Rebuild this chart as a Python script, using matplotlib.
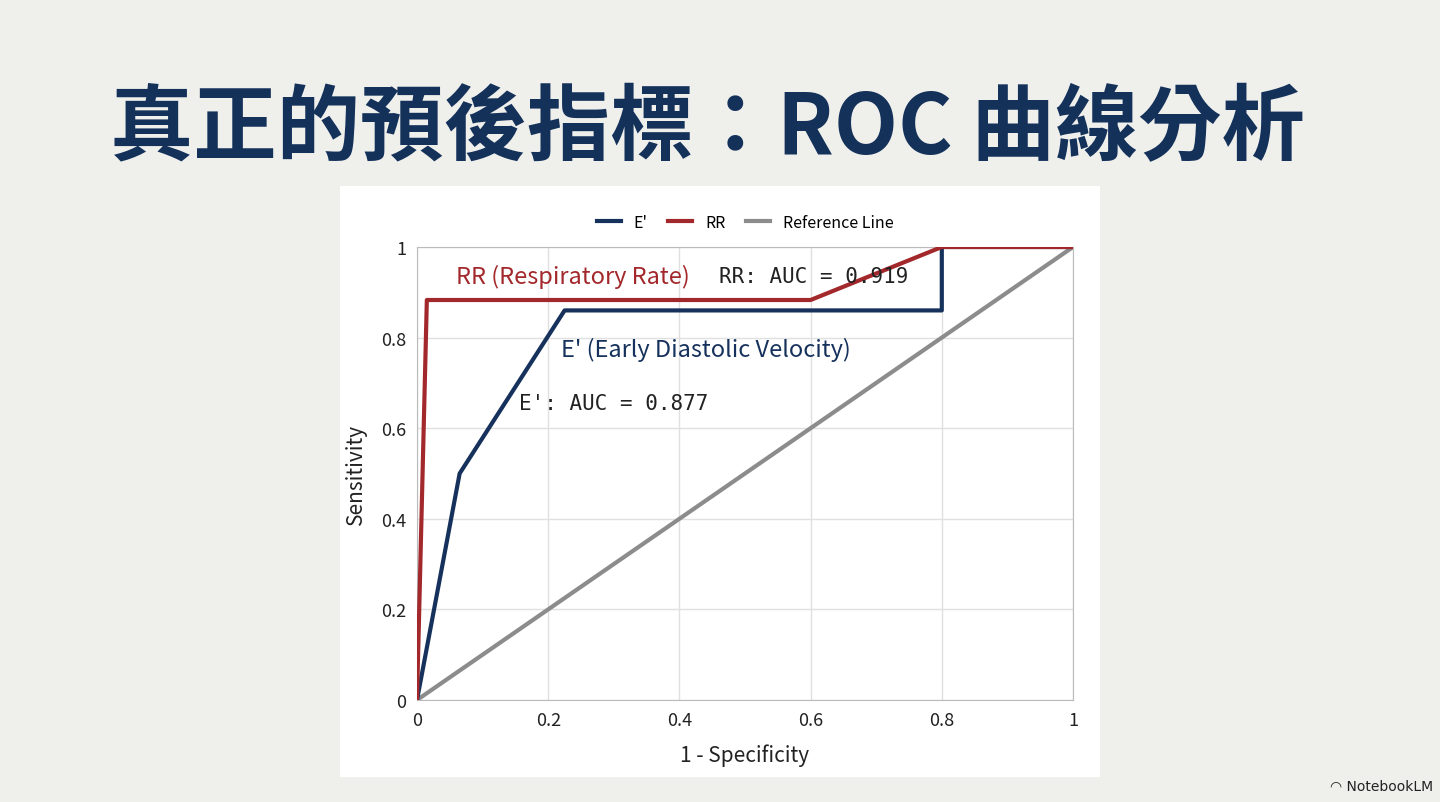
import matplotlib
matplotlib.use("Agg")
import matplotlib.pyplot as plt

fpr_e = [0, 0.065, 0.225, 0.8, 0.8, 1.0]
tpr_e = [0, 0.5, 0.86, 0.86, 1.0, 1.0]
fpr_rr = [0, 0.015, 0.6, 0.8, 1.0]
tpr_rr = [0, 0.883, 0.883, 1.0, 1.0]
ref = [0, 1]
ticks = [0, 0.2, 0.4, 0.6, 0.8, 1]
tick_labels = ["0", "0.2", "0.4", "0.6", "0.8", "1"]

W, H = 1440, 803
fig = plt.figure(figsize=(W/100, H/100), dpi=100)
fig.patch.set_facecolor("#efefec")
plt.rcParams['font.family'] = ['Noto Sans CJK TC', 'DejaVu Sans']

fig.text(708/W, 1-130/H, "真正的預後指標：ROC 曲線分析", ha="center", va="center",
         fontsize=60, fontweight="bold", color="#14315a")

panel = fig.add_axes([340/W, 1-778/H, 760/W, 591/H])
panel.set_facecolor("white"); panel.set_xticks([]); panel.set_yticks([])
for s in panel.spines.values(): s.set_visible(False)

ax = fig.add_axes([417/W, 1-701/H, 656/W, 453/H])
ax.set_facecolor("white")
navy, red, gray = "#16325c", "#a3282c", "#8c8c8c"
ax.plot(fpr_e, tpr_e, color=navy, lw=3, label="E'", zorder=3)
ax.plot(fpr_rr, tpr_rr, color=red, lw=3, label="RR", zorder=3)
ax.plot(ref, ref, color=gray, lw=3, label="Reference Line", zorder=2)
ax.set_xlim(0, 1); ax.set_ylim(0, 1)
ax.set_xticks(ticks); ax.set_xticklabels(tick_labels)
ax.set_yticks(ticks); ax.set_yticklabels(tick_labels)
ax.minorticks_off()
ax.grid(True, which="major", color="#e0e0e0", lw=1)
ax.tick_params(length=0, labelsize=13, colors="#222222", pad=8)
for s in ax.spines.values(): s.set_color("#bbbbbb")
ax.set_xlabel("1 - Specificity", fontsize=15, color="#222222", labelpad=10)
ax.set_ylabel("Sensitivity", fontsize=15, color="#222222", labelpad=10)
ax.legend(loc="lower center", bbox_to_anchor=(0.5, 1.0), ncol=3, frameon=False,
          fontsize=11.5, handlelength=1.5, columnspacing=1.3, borderaxespad=0.6)

ax.text(0.06, 0.935, "RR (Respiratory Rate)", color=red, fontsize=17, va="center")
ax.text(0.46, 0.935, "RR: AUC = 0.919", color="#222222", fontsize=15, va="center", family="DejaVu Sans Mono")
ax.text(0.22, 0.775, "E' (Early Diastolic Velocity)", color=navy, fontsize=17, va="center")
ax.text(0.155, 0.655, "E': AUC = 0.877", color="#222222", fontsize=15, va="center", family="DejaVu Sans Mono")

fig.text(1330/W, 1-787/H, "◠ NotebookLM", fontsize=10, color="#222222", va="center", family="DejaVu Sans")
fig.savefig("out.png", dpi=100, facecolor=fig.get_facecolor())
